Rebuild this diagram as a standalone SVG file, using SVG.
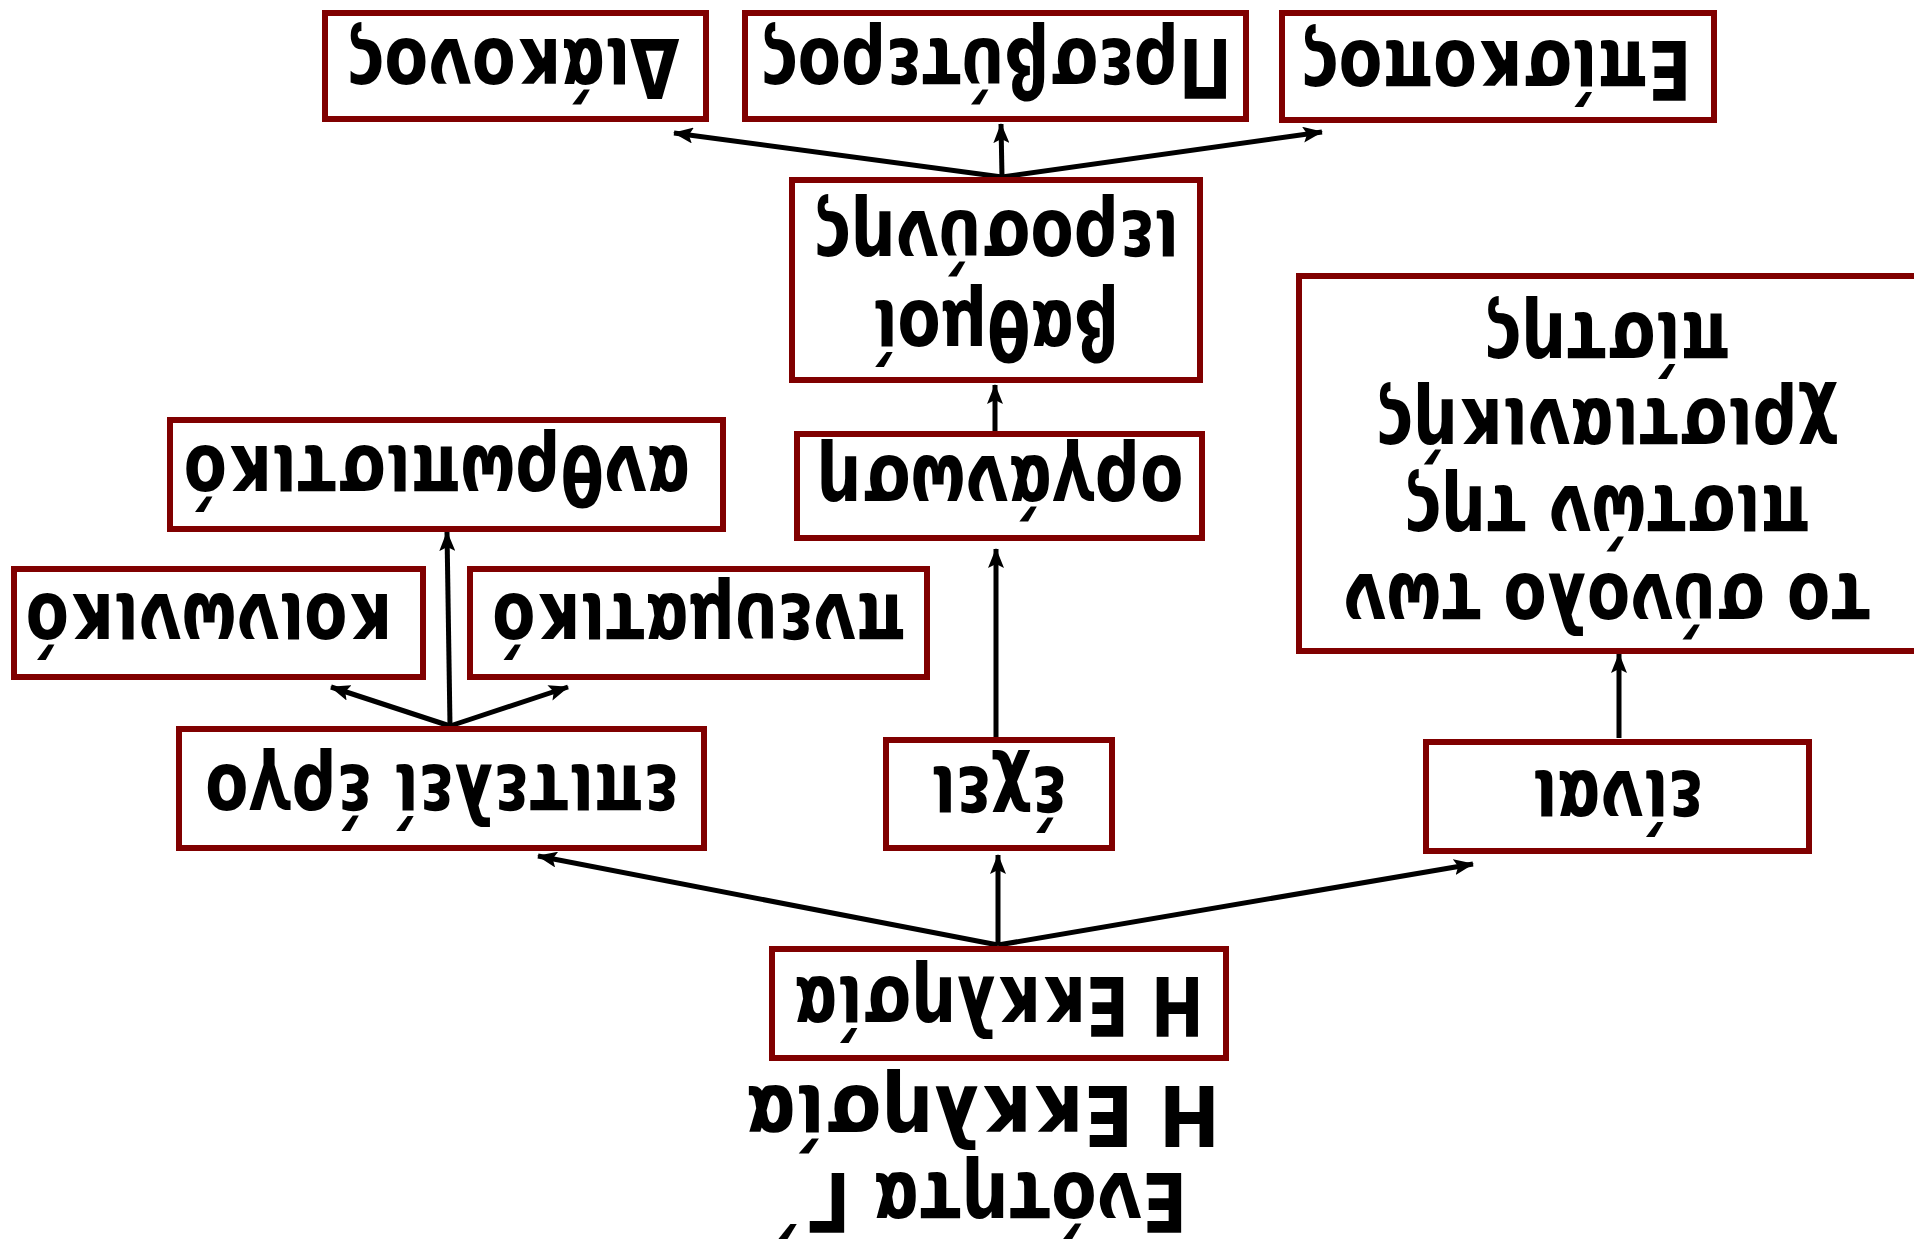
<svg xmlns="http://www.w3.org/2000/svg" width="1914" height="1247" viewBox="0 0 1914 1247">
<style>
.box{fill:#ffffff;stroke:#800000;stroke-width:6}
.t{font-family:"DejaVu Sans",sans-serif;font-weight:bold;font-size:82px;fill:#000;text-anchor:middle}
.title{font-family:"DejaVu Sans",sans-serif;font-weight:bold;font-size:84px;fill:#000;text-anchor:middle}
.c{stroke:#000;stroke-width:5;fill:none;marker-end:url(#ah)}
</style>
<defs>
<marker id="ah" markerUnits="userSpaceOnUse" markerWidth="20" markerHeight="16" refX="19" refY="8" orient="auto">
<path d="M0,0 L20,8 L0,16 L4,8 z" fill="#000"/>
</marker>
</defs>
<rect x="0" y="0" width="1914" height="1247" fill="#ffffff"/>
<g transform="rotate(180 957 623.5)">
<g id="title">
<text class="title" style="font-size:82px" transform="translate(931,74) scale(0.81,1)">Ενότητα Γ΄</text>
<text class="title" transform="translate(931,161) scale(0.87,1)">Η Εκκλησία</text>
</g>
<g id="connectors">
<line class="c" x1="916" y1="302" x2="1376" y2="391"/>
<line class="c" x1="916" y1="302" x2="916" y2="392"/>
<line class="c" x1="916" y1="302" x2="441" y2="383"/>
<line class="c" x1="918" y1="510" x2="918" y2="698"/>
<line class="c" x1="295" y1="509" x2="295" y2="593"/>
<line class="c" x1="1464" y1="521" x2="1583" y2="560"/>
<line class="c" x1="1464" y1="521" x2="1346" y2="560"/>
<line class="c" x1="1464" y1="521" x2="1467" y2="715"/>
<line class="c" x1="919" y1="816" x2="919" y2="862"/>
<line class="c" x1="912" y1="1070" x2="1240" y2="1114"/>
<line class="c" x1="912" y1="1070" x2="913" y2="1123"/>
<line class="c" x1="912" y1="1070" x2="592" y2="1115"/>
</g>
<g id="ekklisia">
<rect class="box" x="688" y="189" width="454" height="109"/>
<text class="t" transform="translate(915,270) scale(0.77,1)">Η Εκκλησία</text>
</g>
<g id="epitelei">
<rect class="box" x="1210" y="399" width="525" height="119"/>
<text class="t" transform="translate(1472,482) scale(0.77,1)">επιτελεί έργο</text>
</g>
<g id="exei">
<rect class="box" x="802" y="399" width="226" height="108"/>
<text class="t" transform="translate(915,480) scale(0.77,1)">έχει</text>
</g>
<g id="einai">
<rect class="box" x="105" y="396" width="383" height="109"/>
<text class="t" transform="translate(296,476) scale(0.77,1)">είναι</text>
</g>
<g id="koinoniko">
<rect class="box" x="1491" y="570" width="409" height="108"/>
<text class="t" transform="translate(1705,653) scale(0.77,1)">κοινωνικό</text>
</g>
<g id="pneumatiko">
<rect class="box" x="987" y="570" width="457" height="108"/>
<text class="t" transform="translate(1215,653) scale(0.77,1)">πνευματικό</text>
</g>
<g id="anthropistiko">
<rect class="box" x="1191" y="718" width="553" height="109"/>
<text class="t" transform="translate(1477,801) scale(0.77,1)">ανθρωπιστικό</text>
</g>
<g id="organosi">
<rect class="box" x="712" y="709" width="405" height="104"/>
<text class="t" transform="translate(914,791) scale(0.77,1)">οργάνωση</text>
</g>
<g id="pistoi">
<rect class="box" x="-3" y="596" width="618" height="375"/>
<text class="t" transform="translate(307,673) scale(0.77,1)">το σύνολο των</text>
<text class="t" transform="translate(307,761) scale(0.77,1)">πιστών της</text>
<text class="t" transform="translate(307,848) scale(0.77,1)">χριστιανικής</text>
<text class="t" transform="translate(307,934) scale(0.77,1)">πίστης</text>
</g>
<g id="vathmoi">
<rect class="box" x="714" y="867" width="408" height="200"/>
<text class="t" transform="translate(918,946) scale(0.77,1)">βαθμοί</text>
<text class="t" transform="translate(918,1036) scale(0.77,1)">ιεροσύνης</text>
</g>
<g id="episkopos">
<rect class="box" x="200" y="1127" width="432" height="107"/>
<text class="t" transform="translate(418,1206) scale(0.78,1)">Επίσκοπος</text>
</g>
<g id="presvyteros">
<rect class="box" x="668" y="1128" width="501" height="106"/>
<text class="t" transform="translate(918,1208) scale(0.77,1)">Πρεσβύτερος</text>
</g>
<g id="diakonos">
<rect class="box" x="1208" y="1128" width="381" height="106"/>
<text class="t" transform="translate(1401,1208) scale(0.78,1)">Διάκονος</text>
</g>
</g>
</svg>
